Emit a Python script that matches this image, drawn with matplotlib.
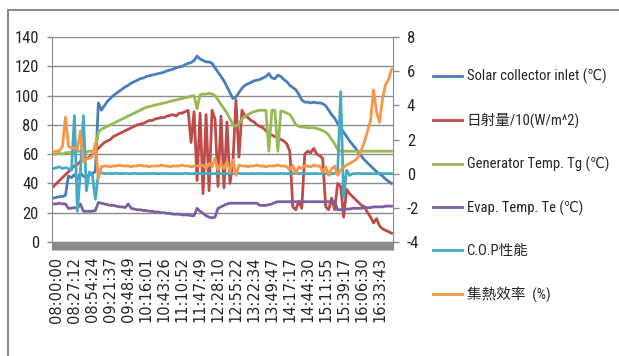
import matplotlib
matplotlib.use("Agg")
import matplotlib.pyplot as plt
from matplotlib.lines import Line2D

plt.rcParams['font.family'] = ['Roboto Condensed', 'Liberation Sans Narrow', 'DejaVu Sans',
                               'Noto Sans CJK TC']
plt.rcParams['font.stretch'] = 'condensed'
plt.rcParams['axes.unicode_minus'] = False

# time labels shown on the category axis (every 6th sample)
time_labels = ['08:00:00', '08:27:12', '08:54:24', '09:21:37', '09:48:49', '10:16:01',
               '10:43:26', '11:10:52', '11:47:49', '12:28:10', '12:55:22', '13:22:34',
               '13:49:47', '14:17:17', '14:44:30', '15:11:55', '15:39:17', '16:06:30',
               '16:33:43']

# left axis series
solar_inlet = [30, 30.5, 31, 31, 32,
               45, 44, 46, 43, 47, 45, 44, 46, 47, 48,
               95, 90, 93, 96, 98, 100, 101.5, 103, 104.5, 106,
               107, 108.5, 109.5, 110.5, 111.5, 112, 113, 113.5, 114, 114.5,
               115, 115.5, 116, 117, 117.5, 118, 119, 119.5, 120, 121,
               122, 122.5, 124, 127, 125, 124, 123, 123, 122, 119,
               116, 113, 110, 106, 102, 98, 99, 102, 105, 107,
               108, 109, 110, 110.5, 111, 112, 113, 115, 112, 111.5,
               114, 113, 111, 109.5, 107, 105.5, 104, 101, 97, 95.5,
               95.5, 95, 95.5, 95, 95, 94.5, 93, 90, 87, 84.5,
               81, 78, 75, 72, 69, 66.5, 64, 61, 58.5, 56,
               54, 52, 50, 48, 46.5, 45, 43, 41.5, 40]

radiation = [38, 40, 42, 44, 46,
             48, 50, 52, 53, 55, 56, 57, 58, 60, 62,
             64, 66, 68, 69, 70, 72, 73, 74, 75, 76,
             77, 78, 79, 80, 80.5, 81, 82, 83, 83, 84,
             84.5, 85, 85, 86, 86.5, 87, 86, 88, 88, 89,
             90, 68, 89, 42, 88, 33, 87, 35, 90, 84,
             38, 86, 37, 82, 40, 55, 97, 58, 90, 86,
             85, 83, 82, 80, 79, 78, 76, 74, 73, 72,
             71, 70, 69, 67, 62, 24, 22, 28, 23, 60,
             62, 61, 64, 60, 59, 57, 24, 22, 30, 22,
             40, 38, 17, 36, 33, 31, 29, 27, 25, 24,
             20, 17, 13, 16, 11, 9, 8, 7, 6]

generator = [60, 60, 60.5, 60, 61,
             61, 61.5, 61, 62, 62, 62, 61.5, 62, 62, 63,
             75, 77, 78, 79, 80, 81, 82, 83, 84, 85,
             86, 87, 88, 89, 90, 91, 92, 92.5, 93, 93.5,
             94, 94.5, 95, 95.5, 96, 96.5, 97, 97.5, 98, 98.5,
             99, 99.5, 100, 91, 100.5, 101, 101, 101.5, 101, 100,
             97, 94, 91, 88, 84, 80, 79, 81, 84, 86,
             87, 88, 89, 89.5, 90, 90, 90, 62, 90, 90,
             62, 89.5, 89, 88, 87, 84, 80, 79, 78.5, 78.5,
             78, 78, 78, 77.5, 77, 76, 75, 73, 70, 67,
             63, 62, 62, 62, 62, 62, 62, 62, 62, 62,
             62, 62, 62, 62, 62, 62, 62, 62, 62]

evaporator = [26, 26, 26.5, 26, 26,
              23, 23, 23.5, 23, 26, 21, 21, 21, 21, 21.5,
              27, 26.5, 26, 25.5, 25, 25, 24.5, 24, 24, 23.5,
              26, 23, 22.5, 22, 22, 21.5, 21.5, 21, 21, 20.5,
              20.5, 20, 20, 19.5, 19.5, 19, 19, 19, 18.5, 18.5,
              18.5, 18, 18, 23, 21, 19.5, 18, 17, 16.5, 17,
              23, 24, 25, 26, 26.5, 26.5, 26.5, 26.5, 26.5, 26.5,
              26.5, 26.5, 26.5, 26.5, 25, 25, 25, 25.5, 26, 27,
              27.5, 27.5, 27.5, 27.5, 27.5, 27.5, 27.5, 27.5, 27.5, 27.5,
              27.5, 27.5, 27.5, 27.5, 27.5, 27.5, 27.5, 27.5, 27.5, 27.5,
              22, 22, 22.5, 22.5, 22.5, 23, 23, 23, 23, 23.5,
              23.5, 23.5, 24, 24, 24, 24, 24.5, 24.5, 24.5]

# right axis series
cop = [0.3, 0.35, 0.4, 0.3, 0.35,
       0.3, 0.2, 3.4, -2.2, 0.1, 3.4, -1.0, 0.1, -0.1, -1.5,
       0.0, 0.05, 0.0, 0.02, 0.0, 0.0, 0.03, 0.0, 0.0, 0.02,
       0.0, 0.0, 0.02, 0.0, 0.0, 0.01, 0.0, 0.0, 0.02, 0.0,
       0.0, 0.0, 0.02, 0.0, 0.0, 0.01, 0.0, 0.0, 0.0, 0.02,
       0.0, 0.0, 0.0, 0.02, 0.0, 0.0, 0.01, 0.0, 0.0, 0.0,
       0.02, 0.0, 0.0, 0.0, 0.01, 0.0, 0.0, 0.02, 0.0, 0.0,
       0.0, 0.01, 0.0, 0.0, 0.02, 0.0, 0.0, 0.0, 0.01, 0.0,
       0.0, 0.02, 0.0, 0.0, 0.0, 0.01, 0.0, 0.0, 0.02, 0.0,
       0.0, 0.0, 0.01, 0.0, 0.0, 0.02, 0.0, 0.0, 0.0, 0.01,
       0.1, 4.8, -1.4, 0.2, -0.1, 0.0, 0.0, 0.02, 0.0, 0.0,
       0.01, 0.0, 0.0, 0.0, 0.02, 0.0, 0.0, 0.01, 0.0]

efficiency = [1.3, 1.3, 1.35, 1.6, 3.3,
              1.6, 1.5, 1.5, 1.45, 2.5, 0.7, 0.85, 0.9, 1.0, 1.8,
              -0.3, 0.4, 0.45, 0.45, 0.4, 0.45, 0.45, 0.5, 0.45, 0.45,
              0.45, 0.4, 0.45, 0.45, 0.5, 0.45, 0.45, 0.4, 0.45, 0.45,
              0.45, 0.5, 0.45, 0.45, 0.4, 0.45, 0.45, 0.45, 0.5, 0.45,
              0.45, 0.4, 0.45, 0.45, 0.45, 0.5, 0.3, 0.6, 0.4, 0.9,
              0.2, 0.6, 0.3, 0.7, 0.1, 0.8, -0.1, 0.5, 0.45, 0.45,
              0.4, 0.45, 0.45, 0.5, 0.45, 0.45, 0.4, 0.45, 0.45, 0.45,
              0.5, 0.45, 0.45, 0.4, 0.2, 0.5, 0.0, 0.4, 0.3, 0.45,
              0.45, 0.4, 0.5, 0.45, 0.45, 0.1, 0.4, -0.1, 0.3, 0.45,
              -0.1, 0.2, 0.4, 0.5, 0.6, 0.7, 0.8, 1.0, 1.4, 1.9,
              2.5, 3.1, 4.9, 3.6, 3.0, 4.4, 5.2, 5.5, 6.1]

labels = ['Solar collector inlet (℃)', '日射量/10(W/m^2)', 'Generator Temp. Tg (℃)',
          'Evap. Temp. Te (℃)', 'C.O.P性能', '集熱效率  (%)']
colors = ['#4A7EBB', '#BE4B48', '#98B954', '#7D60A0', '#46AAC5', '#F79646']

W, H = 619, 356
fig = plt.figure(figsize=(W / 100, H / 100), dpi=100)
ax = fig.add_axes([52 / W, 1 - 242 / H, 341 / W, 205 / H])
ax2 = ax.twinx()

x = list(range(len(solar_inlet)))
lines = []
for ys, c in zip([solar_inlet, radiation, generator, evaporator], colors[:4]):
    lines += ax.plot(x, ys, color=c, lw=2.0, solid_joinstyle='round')
for ys, c in zip([cop, efficiency], colors[4:]):
    lines += ax2.plot(x, ys, color=c, lw=2.0, solid_joinstyle='round')

txt = '#262626'
grid = '#8c8c8c'

ax.set_xlim(-0.5, len(x) - 0.5)
ax.set_ylim(0, 140)
ax.set_yticks(range(0, 141, 20))
ax2.set_ylim(-4, 8)
ax2.set_yticks(range(-4, 9, 2))
ax.yaxis.grid(True, color=grid, lw=1)
ax.set_axisbelow(True)

# dense category ticks form the grey band under the plot
ax.set_xticks(x, minor=True)
ax.set_xticks([1 + 6 * j for j in range(len(time_labels))])
ax.set_xticklabels(time_labels, rotation=90, family='DejaVu Sans', stretch='normal',
                   fontsize=10.5, color=txt)
ax.tick_params(axis='x', which='both', length=5.5, width=2.3, color='#8a8a8a', pad=5)

ax.tick_params(axis='y', length=3.5, width=1, color=grid, pad=6, labelsize=12, labelcolor=txt)
ax2.tick_params(axis='y', length=4, width=1, color=grid, pad=6, labelsize=12, labelcolor=txt)

for s in ['top', 'right']:
    ax.spines[s].set_visible(False)
for s in ['top', 'left', 'bottom']:
    ax2.spines[s].set_visible(False)
ax.spines['left'].set_color(grid)
ax.spines['bottom'].set_color('#8a8a8a')
ax2.spines['right'].set_color(grid)

fig.legend(lines, labels, loc='upper left', bbox_to_anchor=(433 / W, 1 - 69 / H),
           frameon=False, fontsize=10.5, handlelength=2.0, handletextpad=0.3,
           labelspacing=1.95, borderpad=0, borderaxespad=0, labelcolor=txt)

# chart area border
fig.add_artist(Line2D([8 / W, 8 / W], [-0.1, 1 - 10 / H], color='#8c8c8c', lw=1.5))
fig.add_artist(Line2D([8 / W, 1.1], [1 - 10 / H, 1 - 10 / H], color='#8c8c8c', lw=1.5))

fig.savefig('out.png', dpi=100)
